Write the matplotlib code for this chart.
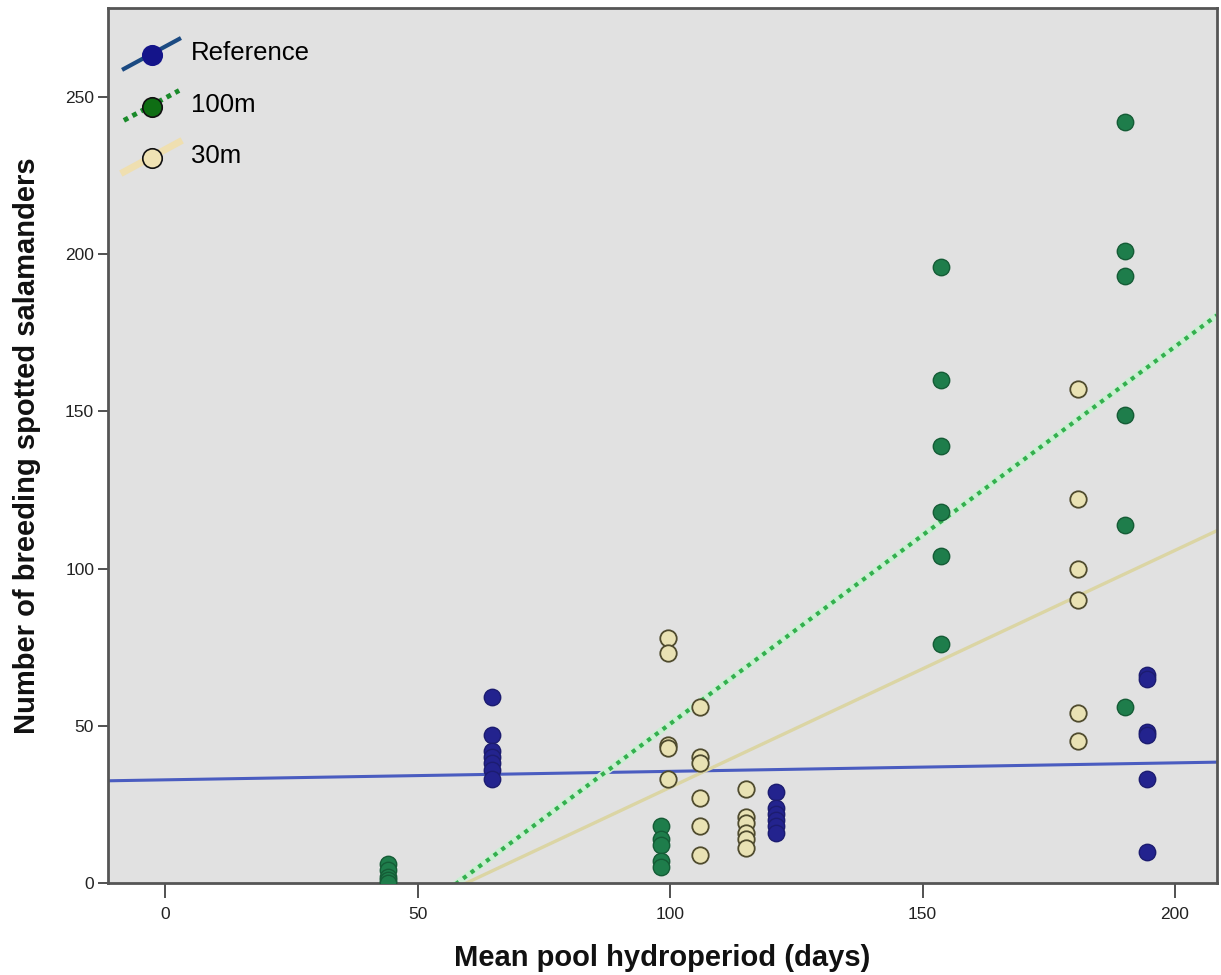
import numpy as np
import matplotlib
matplotlib.use("Agg")
import matplotlib.pyplot as plt
from matplotlib.lines import Line2D
from matplotlib.legend_handler import HandlerLine2D

# pool hydroperiod (days) and breeding counts, one list per treatment
ref_days = [64.8] * 7 + [121.0] * 6 + [194.5] * 6
ref_counts = [59, 47, 42, 40, 38, 36, 33,
              29, 24, 22, 20, 18, 16,
              66, 65, 48, 47, 33, 10]

m100_days = [44.2] * 5 + [98.2] * 5 + [153.6] * 6 + [190.0] * 6
m100_counts = [6, 4, 2, 1, 0,
               18, 14, 12, 7, 5,
               196, 160, 139, 118, 104, 76,
               242, 201, 193, 149, 114, 56]

m30_days = [99.6] * 5 + [106.0] * 6 + [115.0] * 6 + [180.8] * 6
m30_counts = [78, 73, 44, 43, 33,
              56, 40, 38, 27, 18, 9,
              30, 21, 19, 16, 14, 11,
              157, 122, 100, 90, 54, 45]

# fitted lines: (intercept, slope)
ref_fit = (32.8, 0.027)
m100_fit = (-69.4, 1.2)
m30_fit = (-45.0, 0.754)

labels = ["Reference", "100m", "30m"]

plt.rcParams["font.family"] = ["Liberation Sans", "DejaVu Sans"]


class DiagonalHandler(HandlerLine2D):
    # legend key: a slanted line segment with the marker sitting on it
    def create_artists(self, legend, orig_handle, xdescent, ydescent,
                       width, height, fontsize, trans):
        x0, x1 = -xdescent, -xdescent + width
        y0, y1 = -ydescent - 0.25 * height, -ydescent + 1.05 * height
        line = Line2D([x0, x1], [y0, y1])
        line.update_from(orig_handle)
        line.set_marker("None")
        line.set_dash_capstyle("butt")
        mark = Line2D([x0 + 0.5 * width], [y0 + 0.45 * (y1 - y0)])
        mark.update_from(orig_handle)
        mark.set_linestyle("None")
        mark.set_markeredgewidth(1.2)
        line.set_transform(trans)
        mark.set_transform(trans)
        return [line, mark]


fig = plt.figure(figsize=(12.21, 9.75), dpi=100)
ax = fig.add_axes([0.0885, 0.0944, 0.9082, 0.8974])
ax.set_facecolor("#e1e1e1")

xmin, xmax = -11.3, 208.3
xs = np.array([xmin, xmax])

ax.plot(xs, ref_fit[0] + ref_fit[1] * xs, color="#4a5cc0", lw=2.2, zorder=2)
ax.plot(xs, m100_fit[0] + m100_fit[1] * xs, color="#cdeed4", lw=5, zorder=2)
ax.plot(xs, m100_fit[0] + m100_fit[1] * xs, color="#33b04e", lw=3,
        linestyle=(0, (1, 1.3)), zorder=2)
ax.plot(xs, m30_fit[0] + m30_fit[1] * xs, color="#dbd5a4", lw=2.4, zorder=2)

ax.scatter(ref_days, ref_counts, s=140, c="#23238e", edgecolors="#1c1c70",
           linewidths=1.0, zorder=3)
ax.scatter(m100_days, m100_counts, s=140, c="#1e7d4b", edgecolors="#155c36",
           linewidths=1.0, zorder=3)
ax.scatter(m30_days, m30_counts, s=140, c="#e9e2b4", edgecolors="#4f4b2e",
           linewidths=1.3, zorder=3)

ax.set_xlim(xmin, xmax)
ax.set_ylim(0, 278.3)
ax.set_xticks([0, 50, 100, 150, 200])
ax.set_yticks([0, 50, 100, 150, 200, 250])
ax.tick_params(axis="x", length=11, width=1.2, color="#333333",
               labelsize=12.5, pad=6, labelcolor="#222222")
ax.tick_params(axis="y", length=7, width=1.2, color="#333333",
               labelsize=12.5, pad=3, labelcolor="#222222")
for side in ax.spines.values():
    side.set_color("#555555")
    side.set_linewidth(2)

label_font = dict(family=["Liberation Sans", "DejaVu Sans"],
                  fontsize=21, fontweight="bold", color="#111111")
ax.set_xlabel("Mean pool hydroperiod (days)", labelpad=16, **label_font)
ax.set_ylabel("Number of breeding spotted salamanders", labelpad=17, **label_font)

handles = [
    Line2D([], [], color="#1b4a82", lw=3, marker="o", markersize=14,
           markerfacecolor="#14148a", markeredgecolor="#14148a"),
    Line2D([], [], color="#1a8a2a", lw=3.5, linestyle=(0, (1, 1)), marker="o",
           markersize=14, markerfacecolor="#0f6e14", markeredgecolor="#111111"),
    Line2D([], [], color="#efdfb0", lw=5, marker="o", markersize=14,
           markerfacecolor="#efe2b4", markeredgecolor="#111111"),
]
leg = ax.legend(handles, labels, loc="upper left", frameon=False,
                fontsize=18.5, handler_map={Line2D: DiagonalHandler()},
                handlelength=2.15, handleheight=1.0, labelspacing=1.02,
                handletextpad=0.45, borderaxespad=0.0,
                bbox_to_anchor=(0.005, 0.975))

fig.savefig("out.png", dpi=100, facecolor="white")
